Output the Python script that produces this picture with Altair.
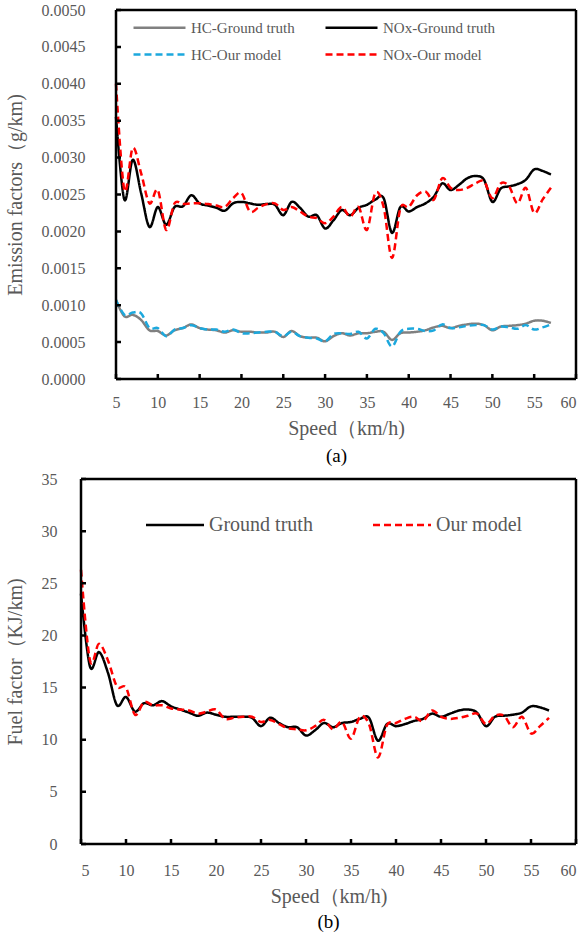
import altair as alt
import pandas as pd

speed = list(range(5, 58))

hc_truth = [0.00107, 0.00085, 0.00087, 0.00080, 0.00066, 0.00065, 0.00059, 0.00066, 0.00069, 0.00074,
            0.00069, 0.00067, 0.00066, 0.00063, 0.00066, 0.00064, 0.00064, 0.00063, 0.00063, 0.00064,
            0.00057, 0.00065, 0.00058, 0.00056, 0.00056, 0.00051, 0.00058, 0.00062, 0.00059, 0.00062,
            0.00062, 0.00064, 0.00064, 0.00053, 0.00062, 0.00063, 0.00064, 0.00066, 0.00070, 0.00072,
            0.00069, 0.00072, 0.00074, 0.00075, 0.00073, 0.00066, 0.00071, 0.00072, 0.00073, 0.00075,
            0.00079, 0.00079, 0.00076]
hc_model = [0.00107, 0.00087, 0.00090, 0.00089, 0.00069, 0.00069, 0.00058, 0.00067, 0.00069, 0.00073,
            0.00069, 0.00067, 0.00067, 0.00064, 0.00067, 0.00062, 0.00062, 0.00063, 0.00064, 0.00064,
            0.00058, 0.00064, 0.00058, 0.00056, 0.00055, 0.00051, 0.00061, 0.00062, 0.00061, 0.00064,
            0.00055, 0.00068, 0.00062, 0.00044, 0.00064, 0.00068, 0.00068, 0.00065, 0.00066, 0.00074,
            0.00069, 0.00070, 0.00072, 0.00073, 0.00073, 0.00067, 0.00071, 0.00070, 0.00068, 0.00073,
            0.00067, 0.00070, 0.00074]
nox_truth = [0.00355, 0.00243, 0.00297, 0.00252, 0.00206, 0.00233, 0.00209, 0.00233, 0.00234, 0.00249,
             0.00238, 0.00235, 0.00232, 0.00228, 0.00238, 0.00240, 0.00238, 0.00236, 0.00237, 0.00236,
             0.00222, 0.00240, 0.00232, 0.00220, 0.00222, 0.00204, 0.00215, 0.00229, 0.00222, 0.00232,
             0.00236, 0.00243, 0.00245, 0.00198, 0.00233, 0.00227, 0.00233, 0.00238, 0.00247, 0.00265,
             0.00256, 0.00263, 0.00272, 0.00275, 0.00270, 0.00240, 0.00258, 0.00261, 0.00264, 0.00270,
             0.00284, 0.00282, 0.00277]
nox_model = [0.00400, 0.00256, 0.00313, 0.00279, 0.00238, 0.00256, 0.00202, 0.00238, 0.00237, 0.00238,
             0.00238, 0.00237, 0.00235, 0.00233, 0.00245, 0.00252, 0.00227, 0.00232, 0.00237, 0.00238,
             0.00229, 0.00233, 0.00227, 0.00220, 0.00218, 0.00211, 0.00220, 0.00233, 0.00220, 0.00233,
             0.00202, 0.00252, 0.00233, 0.00164, 0.00231, 0.00233, 0.00249, 0.00254, 0.00243, 0.00272,
             0.00259, 0.00256, 0.00259, 0.00265, 0.00268, 0.00245, 0.00265, 0.00261, 0.00238, 0.00259,
             0.00225, 0.00243, 0.00259]
fuel_truth = [24.0, 17.0, 18.4, 16.4, 13.3, 14.1, 12.7, 13.5, 13.3, 13.7,
              13.2, 12.9, 12.6, 12.3, 12.6, 12.4, 12.2, 12.2, 12.2, 12.1,
              11.3, 12.1, 11.6, 11.2, 11.2, 10.4, 10.9, 11.6, 11.2, 11.6,
              11.7, 12.0, 12.1, 9.9, 11.5, 11.3, 11.5, 11.8, 12.0, 12.5,
              12.2, 12.5, 12.8, 12.9, 12.6, 11.3, 12.2, 12.3, 12.4, 12.6,
              13.2, 13.1, 12.8]
fuel_model = [26.3, 17.6, 19.2, 17.6, 15.1, 15.0, 12.4, 13.6, 13.3, 13.3,
              13.0, 12.9, 12.8, 12.5, 12.7, 12.9, 12.0, 12.1, 12.2, 12.2,
              11.7, 11.9, 11.5, 11.1, 11.0, 10.9, 11.3, 11.9, 11.0, 11.7,
              10.1, 12.2, 11.5, 8.3, 11.4, 11.6, 12.0, 12.2, 11.8, 12.8,
              12.2, 12.0, 12.1, 12.3, 12.5, 11.5, 12.3, 12.3, 11.2, 12.2,
              10.6, 11.3, 12.1]

top_names = ["HC-Ground truth", "NOx-Ground truth", "HC-Our model", "NOx-Our model"]
top_colors = ["#808080", "#000000", "#1CA8DD", "#FF0000"]
bottom_names = ["Ground truth", "Our model"]
bottom_colors = ["#000000", "#FF0000"]
x_ticks = list(range(5, 61, 5))
x_limits = [5, 60]
top_y_limits = [0, 0.005]
bottom_y_limits = [0, 35]
top_y_ticks = [i * 0.0005 for i in range(11)]
bottom_y_ticks = list(range(0, 36, 5))

FONT = "Liberation Serif"
GRAY = "#595959"
INK = "#000000"
SOLID = [1, 0]
DASH = [7, 4]
LINE_SYMBOL = "M-2,0H2"
FRAME = "frame"
TICK_PX = 5


def build_frame(names, series, y_limits, y_values, plot_w, plot_h):
    """Long table: data series plus frame edges and inward ticks as 2-point pieces."""
    rows = []
    for name, vals in zip(names, series):
        for s, v in zip(speed, vals):
            rows.append({"speed": s, "value": v, "style": name, "piece": name})
    x0, x1 = x_limits
    y0, y1 = y_limits
    edges = [((x0, y0), (x1, y0)), ((x0, y1), (x1, y1)), ((x0, y0), (x0, y1)), ((x1, y0), (x1, y1))]
    dy = TICK_PX * (y1 - y0) / plot_h
    dx = TICK_PX * (x1 - x0) / plot_w
    edges += [((t, y0), (t, y0 + dy)) for t in x_ticks]
    edges += [((x0, t), (x0 + dx, t)) for t in y_values]
    for i, (a, b) in enumerate(edges):
        for p in (a, b):
            rows.append({"speed": p[0], "value": p[1], "style": FRAME, "piece": "edge%d" % i})
    return pd.DataFrame(rows)


def panel(names, colors, series, y_limits, y_title, y_values, y_fmt, y_label_pad, y_title_pad,
          x_label_pad, legend, width, height, shift, caption, cap_offset, cap_dx):
    plot_w = width - shift
    df = build_frame(names, series, y_limits, y_values, plot_w, height)
    x_lo = x_limits[0] - shift * (x_limits[1] - x_limits[0]) / plot_w
    x_scale = alt.Scale(domain=[x_lo, x_limits[1]], nice=False, zero=False)
    y_scale = alt.Scale(domain=y_limits, nice=False)
    styles = names + [FRAME]
    dashes = [SOLID if "Ground" in n else DASH for n in names] + [SOLID]
    widths = [2.5] * len(names) + [1.75]

    x_axis = alt.Axis(title="Speed（km/h)", values=x_ticks, ticks=False, grid=False, domain=False,
                      labelFont=FONT, labelFontSize=16, labelColor=GRAY, labelPadding=x_label_pad,
                      titleFont=FONT, titleFontSize=20, titleFontWeight="normal", titleColor=GRAY,
                      titlePadding=8, orient="bottom", titleX=shift + plot_w / 2,
                      titleAlign="center", labelOverlap=False)
    y_axis = alt.Axis(title=y_title, values=y_values, format=y_fmt, ticks=False, grid=False,
                      domain=False, labelFont=FONT, labelFontSize=16, labelColor=GRAY,
                      labelPadding=y_label_pad, titleFont=FONT, titleFontSize=20,
                      titleFontWeight="normal", titleColor=GRAY, titlePadding=y_title_pad,
                      orient="left", offset=-shift, labelOverlap=False)

    return alt.Chart(df).mark_line(interpolate="cardinal").encode(
        x=alt.X("speed:Q", scale=x_scale, axis=x_axis),
        y=alt.Y("value:Q", scale=y_scale, axis=y_axis),
        color=alt.Color("style:N", scale=alt.Scale(domain=styles, range=colors + [INK]),
                        legend=legend),
        strokeDash=alt.StrokeDash("style:N", scale=alt.Scale(domain=styles, range=dashes),
                                  legend=legend),
        strokeWidth=alt.StrokeWidth("style:N", scale=alt.Scale(domain=styles, range=widths),
                                    legend=None),
        detail="piece:N",
    ).properties(
        width=width, height=height,
        title=alt.TitleParams(caption, orient="bottom", font=FONT, fontSize=19,
                              fontWeight="normal", color=INK, offset=cap_offset, dx=cap_dx),
    )


top_legend = alt.Legend(title=None, orient="none", legendX=64, legendY=3, columns=2,
                        direction="horizontal", values=top_names, symbolType=LINE_SYMBOL,
                        symbolSize=676, symbolStrokeWidth=2.5, labelFont=FONT, labelFontSize=15,
                        labelColor=GRAY, labelOffset=17, columnPadding=25, rowPadding=4,
                        padding=0, labelLimit=300)
bottom_legend = alt.Legend(title=None, orient="none", legendX=78, legendY=30, columns=2,
                           direction="horizontal", values=bottom_names, symbolType=LINE_SYMBOL,
                           symbolSize=841, symbolStrokeWidth=2.5, labelFont=FONT,
                           labelFontSize=20, labelColor=GRAY, labelOffset=18, columnPadding=55,
                           padding=0, labelLimit=300)

top = panel(top_names, top_colors, [hc_truth, nox_truth, hc_model, nox_model], top_y_limits,
            "Emission factors（g/km)", top_y_ticks, ".4f", 31, 16, 15, top_legend,
            495, 369, 35, "(a)", 9, 8)
bottom = panel(bottom_names, bottom_colors, [fuel_truth, fuel_model], bottom_y_limits,
               "Fuel factor（KJ/km)", bottom_y_ticks, "d", 24, 16, 18, bottom_legend,
               495, 365, 0, "(b)", 7, 0)

chart = alt.vconcat(top, bottom, spacing=5).resolve_scale(
    color="independent", strokeDash="independent", strokeWidth="independent"
).properties(
    padding={"left": 5, "top": 2, "right": 1, "bottom": 2}, background="white"
).configure_view(strokeOpacity=0)

chart.save("out.html", embed_options={"renderer": "svg", "actions": False})
